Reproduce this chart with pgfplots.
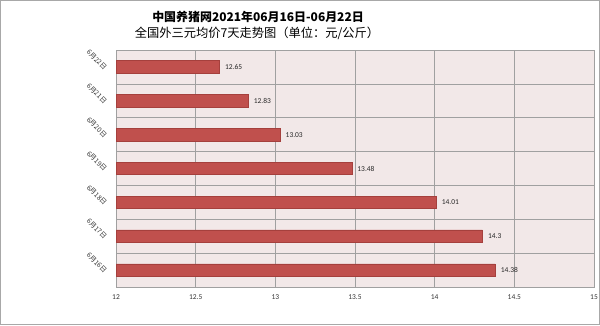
\documentclass[border=0pt]{standalone}
\usepackage{fontspec}
\setmainfont{Carlito}
\newfontfamily\cjk{Noto Sans CJK SC}
\usepackage{pgfplots}
\pgfplotsset{compat=1.18}
\definecolor{barred}{HTML}{C0504D}
\definecolor{barborder}{HTML}{A5403D}
\definecolor{bgpink}{HTML}{F2E8E8}
\definecolor{gridgray}{HTML}{A0A0A0}
\definecolor{framegray}{HTML}{A8A8A8}
\pgfplotstableread{
y val
0 14.38
1 14.3
2 14.01
3 13.48
4 13.03
5 12.83
6 12.65
}\pricedata
\begin{document}
\begin{tikzpicture}[x=1bp,y=1bp]
\path[use as bounding box] (0,0) rectangle (600,325);
\draw[framegray, line width=1.2bp] (0.6,0.6) rectangle (599.4,324.4);
\node[font=\cjk\bfseries\fontsize{12}{14}\selectfont] at (258,308.5) {中国养猪网2021年06月16日-06月22日};
\node[font=\cjk\fontsize{12.3}{14}\selectfont] at (257,292) {全国外三元均价7天走势图（单位：元/公斤）};
\begin{axis}[
  at={(116bp,38bp)}, anchor=south west, scale only axis,
  width=478bp, height=237bp,
  xmin=12, xmax=15, ymin=-0.5, ymax=6.5,
  xtick={12,12.5,...,15},
  ytick={0,...,6},
  yticklabels={6月16日,6月17日,6月18日,6月19日,6月20日,6月21日,6月22日},
  minor ytick={-0.5,0.5,...,6.5},
  xmajorgrids, yminorgrids,
  major grid style={gridgray, line width=0.6bp},
  minor grid style={gridgray, line width=0.6bp},
  major tick length=0pt, minor tick length=0pt,
  axis line style={gridgray, line width=0.8bp},
  axis background/.style={fill=bgpink},
  /pgf/number format/assume math mode=true,
  xticklabel style={font=\fontsize{7.5}{8}\selectfont, text=black!80, yshift=-4bp},
  yticklabel style={font=\cjk\fontsize{6.8}{7}\selectfont, text=black!80, xshift=-8bp, yshift=-4bp, rotate=-45, anchor=east},
  xbar, bar width=12.5bp,
  nodes near coords,
  nodes near coords style={font=\fontsize{7.5}{8}\selectfont, text=black!85, anchor=west, xshift=2bp,
     /pgf/number format/fixed, /pgf/number format/precision=2},
  clip=true,
]
\addplot[fill=barred, draw=barborder, line width=0.6bp] table[x=val, y=y] {\pricedata};
\end{axis}
\end{tikzpicture}
\end{document}
